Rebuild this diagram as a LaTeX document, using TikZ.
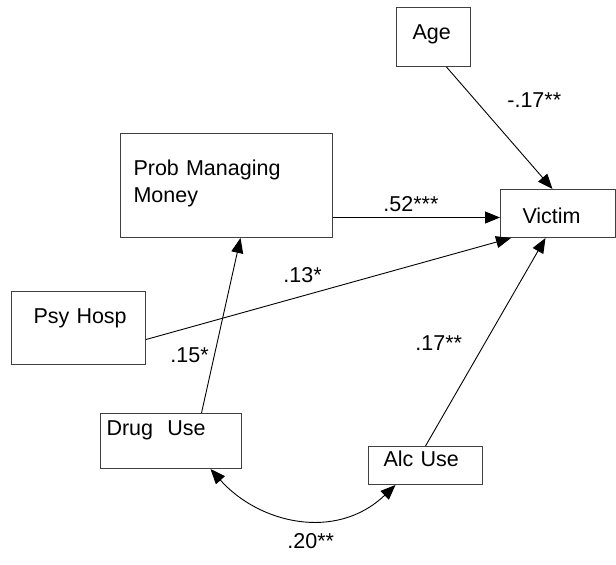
\documentclass[tikz,border=0pt]{standalone}
\usepackage{fontspec}
\setmainfont{Liberation Sans}
\usetikzlibrary{arrows.meta,calc}

\begin{document}
\begin{tikzpicture}[
    x=0.5pt, y=-0.5pt,
    font=\fontsize{10.75}{13.5}\selectfont,
    var/.style={rectangle, draw=black!75, line width=0.5pt, inner sep=0pt, align=left, anchor=north west},
    coef/.style={inner sep=0pt, anchor=base west},
    arrow/.style={-{Triangle[length=7.5pt,width=6pt]}, line width=0.45pt},
    corr/.style={{Triangle[length=7.5pt,width=6pt]}-{Triangle[length=7.5pt,width=6pt]}, line width=0.45pt}
]
    \useasboundingbox (0,0) rectangle (616,564);
    \node[var, text width=37pt, text height=15.75pt, text depth=13.75pt] (age) at (396,7) {\hspace*{8pt}Age};
    \node[var, text width=57.5pt, text height=17pt, text depth=7pt] (victim) at (500,189) {\hspace*{11pt}Victim};
    \node[var, text width=106pt, text height=21pt, text depth=31pt] (prob) at (120,133) {\hspace*{6.5pt}Prob Managing\\\hspace*{6.5pt}Money};
    \node[var, text width=67pt, text height=15.75pt, text depth=20.75pt] (psy) at (11,291) {\hspace*{11pt}Psy Hosp};
    \node[var, text width=70.5pt, text height=10.75pt, text depth=16.75pt] (drug) at (100,413) {\hspace*{3pt}Drug\ \ Use};
    \node[var, text width=57pt, text height=10pt, text depth=9pt] (alc) at (368,446) {\hspace*{7.5pt}Alc Use};
    % path coefficients
    \node[coef] (c17a) at (507,107) {-.17**};
    \node[coef] (c52) at (383,211) {.52***};
    \node[coef] (c13) at (283,282) {.13*};
    \node[coef] (c15) at (170,362) {.15*};
    \node[coef] (c17b) at (415,350) {.17**};
    \node[coef] (c20) at (287,548) {.20**};
    % paths
    \draw[arrow] ($(age.south)+(13,0)$) -- ($(victim.north)+(-5.5,0)$);
    \draw[arrow] ($(prob.east)+(0,32)$) -- ($(victim.west)+(0,4)$);
    \draw[arrow] ($(psy.east)+(0,11.5)$) -- ($(victim.south west)+(11,0)$);
    \draw[arrow] ($(drug.north)+(30.5,0)$) -- ($(prob.south)+(14,0)$);
    \draw[arrow] (alc.north) -- ($(victim.south)+(-12.5,0)$);
    \draw[corr] ($(drug.south)+(39.5,0)$) .. controls +(48,54) and +(-60,57) .. ($(alc.south)+(-30,0)$);
\end{tikzpicture}
\end{document}
